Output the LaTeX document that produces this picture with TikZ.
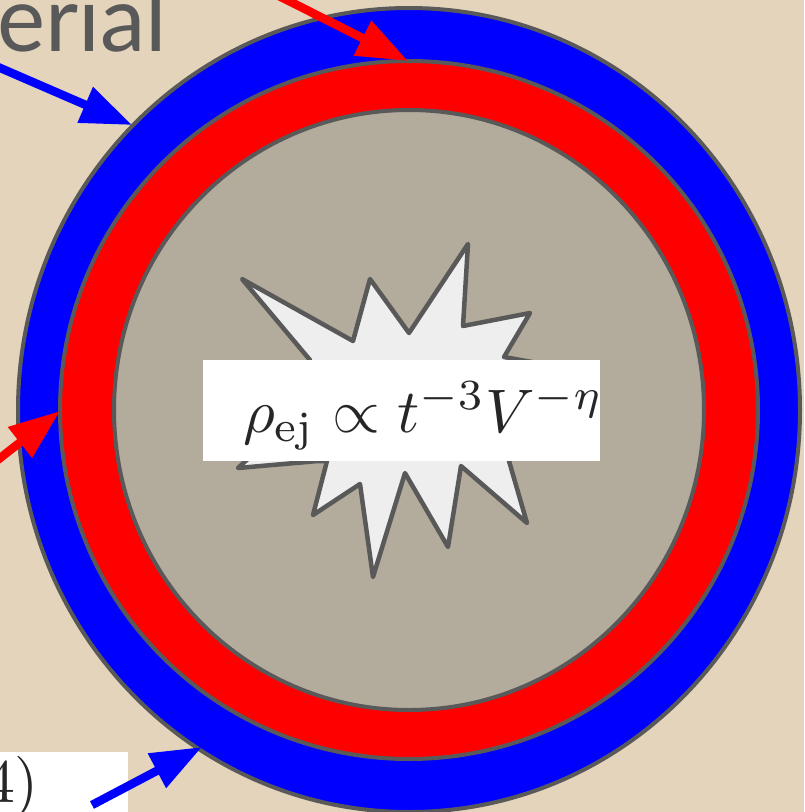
\documentclass[tikz,border=0pt]{standalone}
\usepackage{fontspec}
\usepackage{amsmath}
\usetikzlibrary{arrows.meta}
\newfontfamily\titlefont{Lato}
\definecolor{bgc}{HTML}{E4D4BC}
\definecolor{corec}{HTML}{B3AB9B}
\definecolor{edgec}{HTML}{595959}
\definecolor{starc}{HTML}{EEEEEE}
\definecolor{pblue}{HTML}{0000FF}
\definecolor{pred}{HTML}{FF0000}
\tikzset{
  ringedge/.style={draw=edgec,line width=4pt},
  bluearrow/.style={draw=pblue,line width=8.5pt,-{Triangle[length=51pt,width=37pt,fill=pblue]},shorten >=0pt},
  redarrow/.style={draw=pred,line width=8.5pt,-{Triangle[length=51pt,width=37pt,fill=pred]},shorten >=0pt},
  whitebox/.style={fill=white,draw=none,inner sep=0pt},
  mathtext/.style={anchor=base west,inner sep=0pt,text=black!85}
}
\begin{document}
\begin{tikzpicture}[x=1pt,y=-1pt]
\useasboundingbox (0,0) rectangle (804,812);
\clip (0,0) rectangle (804,812);
\fill[bgc] (0,0) rectangle (804,812);
% title fragment
\node[anchor=base west,inner sep=0pt,text=edgec,font=\titlefont\fontsize{91}{91}\selectfont] (title) at (-3,51) {erial};
% rings
\path[ringedge,fill=pblue] (409,410) ellipse [x radius=391,y radius=402];
\path[ringedge,fill=pred] (409,410) ellipse [x radius=349,y radius=349];
\path[ringedge,fill=corec] (409,410) ellipse [x radius=295,y radius=300];
% burst
\path[ringedge,line width=4.5pt,fill=starc,line join=round] (242,279) -- (353,341) -- (370,279) -- (409,333) -- (468,244) -- (463,326) -- (530,313) -- (504,357) -- (565,368) -- (530,420) -- (509,461) -- (527,523) -- (461,466) -- (448,547) -- (405,473) -- (373,577) -- (360,484) -- (313,515) -- (327,461) -- (318,461) -- (238,468) -- (290,420) -- (310,360) -- cycle;
% white label boxes
\node[whitebox,anchor=north west,minimum width=397pt,minimum height=101pt] (lawbox) at (203,360) {};
\node[mathtext] (law) at (243,432) {\scalebox{6.15}{$\rho_{\mathrm{ej}}\propto t^{-3}V^{-\eta}$}};
\begin{scope}
\node[whitebox,anchor=north west,minimum width=128pt,minimum height=60pt] (eqbox) at (0,752) {};
\clip (0,752) rectangle (128,812);
\node[mathtext] (eqnum) at (-16,802) {\scalebox{6.15}{4)}};
\end{scope}
% free ends and targets
\coordinate (bluetopstart) at (-2,67);
\coordinate (bluetoptip) at (132,125);
\coordinate (redtopstart) at (279,-4);
\coordinate (redtoptip) at (408,61);
\coordinate (redleftstart) at (-10,466);
\coordinate (redlefttip) at (60,411);
\coordinate (bluebotstart) at (92,805);
\coordinate (bluebottip) at (202,747);
\draw[bluearrow] (bluetopstart) -- (bluetoptip);
\draw[redarrow] (redtopstart) -- (redtoptip);
\draw[redarrow] (redleftstart) -- (redlefttip);
\draw[bluearrow] (bluebotstart) -- (bluebottip);
\end{tikzpicture}
\end{document}
